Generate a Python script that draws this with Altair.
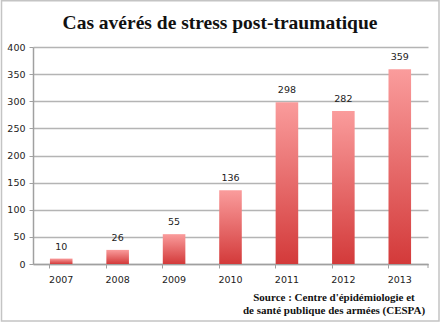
import altair as alt
import pandas as pd

years = ["2007", "2008", "2009", "2010", "2011", "2012", "2013"]
cases = [10, 26, 55, 136, 298, 282, 359]
y_ticks = [0, 50, 100, 150, 200, 250, 300, 350, 400]
title_text = "Cas avérés de stress post-traumatique"
source_lines = ["Source : Centre d'épidémiologie et", "de santé publique des armées (CESPA)"]

df = pd.DataFrame({"year": years, "cases": cases})

W, H = 395, 217
LEFT, TOP = 33, 47

grad = alt.Gradient(
    gradient="linear",
    stops=[
        alt.GradientStop(color="#fa9c9c", offset=0),
        alt.GradientStop(color="#d33a3a", offset=1),
    ],
    x1=0, x2=0, y1=0, y2=1,
)

x = alt.X(
    "year:N",
    sort=years,
    scale=alt.Scale(paddingInner=0.6, paddingOuter=0.3),
    axis=alt.Axis(
        title=None, labelAngle=0, bandPosition=0, tickSize=4,
        tickColor="#a0a0a0", domainColor="#a0a0a0", domainWidth=1.5,
        labelFont="DejaVu Sans", labelFontSize=9.5, labelColor="#222222",
        labelPadding=6, grid=False,
    ),
)
y = alt.Y(
    "cases:Q",
    scale=alt.Scale(domain=[0, 400], nice=False),
    axis=alt.Axis(
        title=None, values=y_ticks, labelOverlap=False,
        tickSize=4, tickColor="#a0a0a0", domainColor="#a0a0a0", domainWidth=1.5,
        gridColor="#b4b4b4", gridWidth=1.5,
        labelFont="DejaVu Sans", labelFontSize=9.5, labelColor="#222222",
        labelPadding=4,
    ),
)

base = alt.Chart(df)
bars = base.mark_bar(color=grad).encode(x=x, y=y)
labels = base.mark_text(
    dy=-7, baseline="bottom", font="DejaVu Sans", fontSize=9.5, color="#222222"
).encode(x=x, y=y, text="cases:Q")

end_tick = alt.Chart(pd.DataFrame({"a": [0]})).mark_rule(color="#a0a0a0").encode(
    x=alt.value(W), y=alt.value(H), y2=alt.value(H + 4)
)

title = alt.Chart(pd.DataFrame({"t": [title_text]})).mark_text(
    font="Liberation Serif", fontWeight="bold", fontSize=19.5, color="#111111",
    align="center", baseline="alphabetic",
).encode(x=alt.value(220 - LEFT), y=alt.value(29 - TOP), text="t:N")

src1 = alt.Chart(pd.DataFrame({"t": [source_lines[0]]})).mark_text(
    font="Liberation Serif", fontWeight="bold", fontSize=11, color="#111111",
    align="center", baseline="alphabetic",
).encode(x=alt.value(334 - LEFT), y=alt.value(301 - TOP), text="t:N")

src2 = alt.Chart(pd.DataFrame({"t": [source_lines[1]]})).mark_text(
    font="Liberation Serif", fontWeight="bold", fontSize=11, color="#111111",
    align="center", baseline="alphabetic",
).encode(x=alt.value(334 - LEFT), y=alt.value(314 - TOP), text="t:N")

frame = alt.Chart(pd.DataFrame({"a": [0]})).mark_rect(
    fill=None, stroke="#c4c4c4", strokeWidth=1.5
).encode(
    x=alt.value(1.5 - LEFT), x2=alt.value(439 - LEFT),
    y=alt.value(0.75 - TOP), y2=alt.value(321 - TOP),
)

chart = alt.layer(bars, labels, end_tick, title, src1, src2, frame).properties(
    width=W, height=H,
    autosize=alt.AutoSizeParams(type="none"),
    padding={"left": LEFT, "top": TOP, "right": 443 - LEFT - W, "bottom": 326 - TOP - H},
    background="white",
).configure_view(stroke=None)

chart.save("out.html", embed_options={"renderer": "svg", "actions": False})
